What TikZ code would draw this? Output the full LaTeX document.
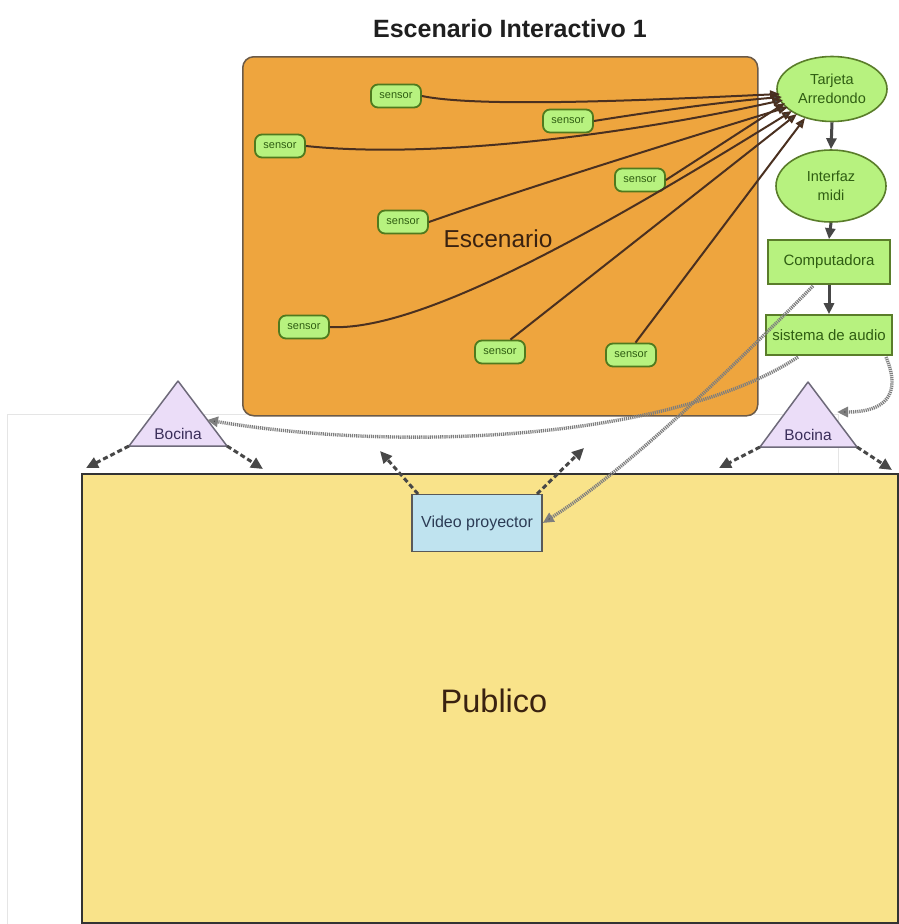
\documentclass[tikz,border=0pt]{standalone}
\usepackage{fontspec}
\setmainfont{Liberation Sans}
\usetikzlibrary{arrows.meta,shapes.geometric}
\definecolor{orangebg}{HTML}{EEA53E}
\definecolor{orangeborder}{HTML}{6B5A48}
\definecolor{sensorfill}{HTML}{B7F27F}
\definecolor{sensorborder}{HTML}{4F7A1E}
\definecolor{sensortext}{HTML}{2F5D12}
\definecolor{greenborder}{HTML}{5A7D2A}
\definecolor{linkbrown}{HTML}{4A3020}
\definecolor{flowgray}{HTML}{474747}
\definecolor{dotgray}{HTML}{7E7E7E}
\definecolor{publicofill}{HTML}{F9E38A}
\definecolor{videofill}{HTML}{BFE3EF}
\definecolor{videotext}{HTML}{2C3C55}
\definecolor{bocinafill}{HTML}{EBDDF8}
\definecolor{bocinaborder}{HTML}{6E6A7A}
\definecolor{bocinatext}{HTML}{3A2E5A}
\definecolor{darktext}{HTML}{3A2210}
\begin{document}
\begin{tikzpicture}[x=1pt,y=-1pt,
  sensorbox/.style={rectangle, draw=sensorborder, line width=1.8pt, fill=sensorfill, rounded corners=7pt, minimum width=50pt, minimum height=23pt, inner sep=0pt, text=sensortext, font=\fontsize{11}{13}\selectfont},
  greenell/.style={ellipse, draw=greenborder, line width=1.6pt, fill=sensorfill, text=sensortext, align=center, font=\fontsize{14.5}{19}\selectfont, inner sep=0pt},
  greenbox/.style={rectangle, draw=greenborder, line width=1.6pt, fill=sensorfill, text=sensortext, font=\fontsize{15}{18}\selectfont, inner sep=0pt},
  sensorlink/.style={draw=linkbrown, line width=2pt, -{Triangle[length=10pt,width=8pt,fill=flowgray]}},
  flowarrow/.style={draw=flowgray, line width=3pt, -{Triangle[length=11pt,width=10pt]}},
  dashedarrow/.style={draw=flowgray, line width=3pt, dash pattern=on 5pt off 3pt, -{Triangle[length=12pt,width=11pt]}},
  dottedarrow/.style={draw=dotgray, line width=3.4pt, dash pattern=on 1.2pt off 0.9pt, -{Triangle[length=11pt,width=10pt,fill=flowgray]}},
  bocinashape/.style={draw=bocinaborder, line width=1.5pt, fill=bocinafill, line join=round},
  bocinalabel/.style={text=bocinatext, font=\fontsize{15.5}{18}\selectfont}
]
\useasboundingbox (0,0) rectangle (898,924);
\fill[white] (0,0) rectangle (898,924);

% faint background frame
\draw[black!10, line width=0.8pt] (7,924) -- (7,414) -- (838,414) -- (838,473);

% title
\node[anchor=base, font=\bfseries\fontsize{25}{30}\selectfont, text=black!88] (title) at (510,37) {Escenario Interactivo 1};

% Publico area
\node[rectangle, draw=black!80, line width=2.4pt, fill=publicofill, minimum width=816pt, minimum height=449pt, anchor=north west, inner sep=0pt] (publico) at (81,473) {};
\node[anchor=base, font=\fontsize{32.5}{38}\selectfont, text=darktext] (publicolabel) at (494,712) {Publico};

% Escenario area
\node[rectangle, draw=orangeborder, line width=1.5pt, fill=orangebg, rounded corners=11pt, minimum width=515pt, minimum height=359pt, anchor=north west, inner sep=0pt] (escenario) at (242,56) {};
\node[anchor=base, font=\fontsize{24.5}{30}\selectfont, text=darktext] (escenariolabel) at (498,247) {Escenario};

% sensors
\node[sensorbox] (s1) at (396,96) {sensor};
\node[sensorbox] (s2) at (568,121) {sensor};
\node[sensorbox] (s3) at (280,146) {sensor};
\node[sensorbox] (s4) at (640,180) {sensor};
\node[sensorbox] (s5) at (403,222) {sensor};
\node[sensorbox] (s6) at (304,327) {sensor};
\node[sensorbox] (s7) at (500,352) {sensor};
\node[sensorbox] (s8) at (631,355) {sensor};

% right column
\node[greenell, minimum width=110pt, minimum height=65pt] (tarjeta) at (832,89) {Tarjeta\\Arredondo};
\node[greenell, minimum width=110pt, minimum height=72pt] (interfaz) at (831,186) {Interfaz\\midi};
\node[greenbox, minimum width=122pt, minimum height=44pt] (computadora) at (829,262) {Computadora};
\node[greenbox, minimum width=126pt, minimum height=40pt] (sistema) at (829,335) {sistema de audio};

\coordinate (t1) at (780,94);
\coordinate (t2) at (782,97);
\coordinate (t3) at (783,100);
\coordinate (t4) at (785,103);
\coordinate (t5) at (788,107);
\coordinate (t6) at (792,111);
\coordinate (t7) at (797,114);
\coordinate (t8) at (805,118);

\draw[sensorlink] (s1.east) .. controls (480,108) and (650,100) .. (t1);
\draw[sensorlink] (s2.east) .. controls (650,112) and (720,102) .. (t2);
\draw[sensorlink] (s3.east) .. controls (420,158) and (600,140) .. (t3);
\draw[sensorlink] (s4.east) -- (t4);
\draw[sensorlink] (s5.east) .. controls (520,190) and (680,140) .. (t5);
\draw[sensorlink] (s6.east) .. controls (420,332) and (600,230) .. (t6);
\draw[sensorlink] (s7.50) -- (t7);
\draw[sensorlink] (s8.70) -- (t8);

\draw[flowarrow] (tarjeta.south) -- (interfaz.north);
\draw[flowarrow] (interfaz.south) -- (computadora.north);
\draw[flowarrow] (computadora.south) -- (sistema.north);

% speakers
\draw[bocinashape] (178,381) -- (227,446) -- (129,446) -- cycle;
\coordinate (bl1) at (129,446);
\coordinate (br1) at (227,446);
\coordinate (in1) at (207,420);
\node[bocinalabel] (bocina1) at (178,434) {Bocina};
\draw[bocinashape] (808,382) -- (857,447) -- (760,447) -- cycle;
\coordinate (bl2) at (760,447);
\coordinate (br2) at (857,447);
\coordinate (in2) at (837,412);
\node[bocinalabel] (bocina2) at (808,435) {Bocina};

% video projector
\node[rectangle, draw=black!65, line width=1.5pt, fill=videofill, minimum width=130pt, minimum height=57pt, inner sep=0pt, text=videotext, font=\fontsize{16}{19}\selectfont] (video) at (477,523) {Video proyector};

% dotted signal lines
\coordinate (sa) at (798,357);
\coordinate (sb) at (886,357);
\coordinate (ca) at (813,286);
\draw[dottedarrow] (sa) .. controls (680,435) and (420,455) .. (in1);
\draw[dottedarrow] (sb) .. controls (902,395) and (885,412) .. (in2);
\draw[dottedarrow] (ca) .. controls (740,360) and (630,468) .. (video.east);

% dashed sound/light arrows
\coordinate (d1) at (86,468);
\coordinate (d2) at (263,469);
\coordinate (d3) at (719,468);
\coordinate (d4) at (892,470);
\coordinate (d5) at (380,451);
\coordinate (d6) at (584,448);
\coordinate (v1) at (418,494);
\coordinate (v2) at (537,494);
\draw[dashedarrow] (bl1) -- (d1);
\draw[dashedarrow] (br1) -- (d2);
\draw[dashedarrow] (bl2) -- (d3);
\draw[dashedarrow] (br2) -- (d4);
\draw[dashedarrow] (v1) -- (d5);
\draw[dashedarrow] (v2) -- (d6);
\end{tikzpicture}
\end{document}
